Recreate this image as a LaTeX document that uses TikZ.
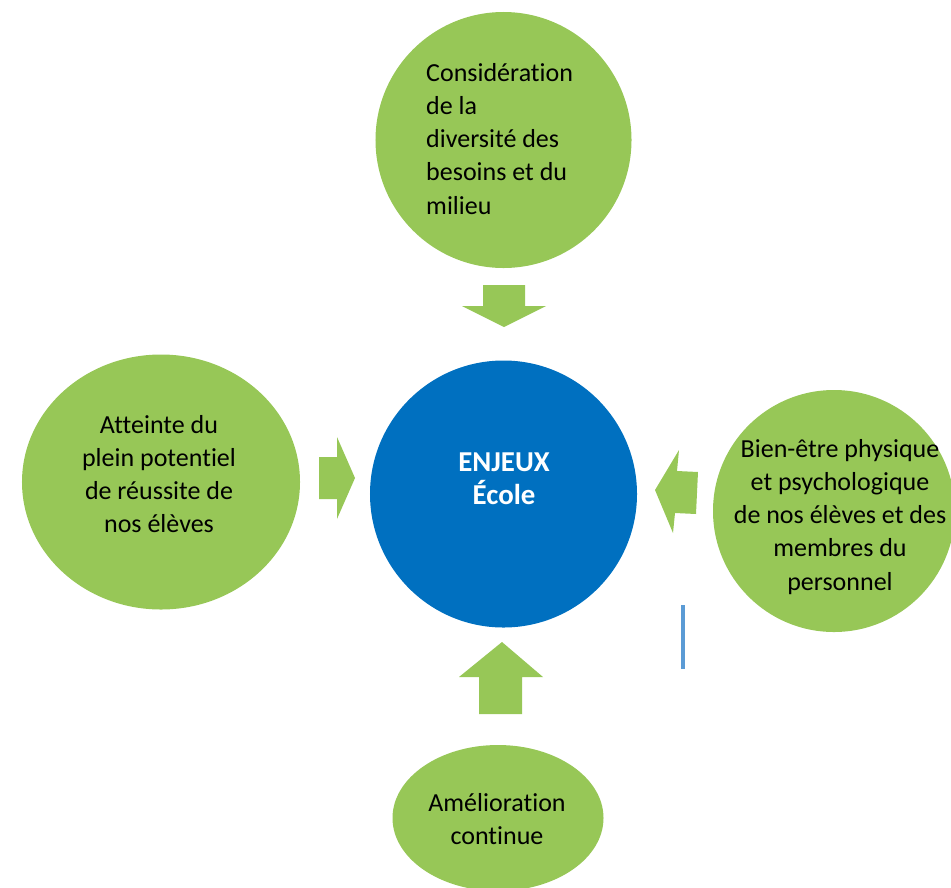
\documentclass[tikz,border=0pt]{standalone}
\usepackage{fontspec}
\setmainfont{Carlito}[Ligatures=NoCommon]
\usetikzlibrary{shapes.geometric}
\definecolor{leafgreen}{HTML}{97C757}
\definecolor{coreblue}{HTML}{0070C0}
\definecolor{markblue}{HTML}{5B9BD5}

\begin{document}
\begin{tikzpicture}[x=0.03cm,y=-0.03cm,
	bubble/.style={fill=leafgreen,inner sep=0pt,outer sep=0pt},
	txt/.style={font=\fontsize{22.2}{28.2}\selectfont,inner sep=0pt},
	blockarrow/.style={fill=leafgreen}]
	
	\useasboundingbox (0,0) rectangle (951,887);
	\clip (0,0) rectangle (951,887);
	\node [bubble,circle,minimum size=7.68cm] at (503.5,140) (topC) {};
	\node [bubble,ellipse,minimum width=8.34cm,minimum height=7.65cm] at (161,482) (leftE) {};
	\node [fill=coreblue,circle,minimum size=8.01cm,inner sep=0pt] at (503.5,494) (core) {};
	\node [bubble,circle,minimum size=7.26cm] at (834,511) (rightC) {};
	\node [bubble,ellipse,minimum width=6.33cm,minimum height=4.38cm] at (498,818) (botE) {};
	\node [txt,anchor=west,align=left] at (426,139) (topT) {Considération\\de la\\diversité des\\besoins et du\\milieu};
	\node [txt,align=center] at (159,474) (leftT) {Atteinte du\\plein potentiel\\de réussite de\\nos élèves};
	\node [txt,align=center,text=white,font=\fontsize{24.6}{28.2}\selectfont\bfseries] at (504,479) (coreT) {ENJEUX\\École};
	\node [txt,align=center] at (840,517) (rightT) {Bien-être physique\\et psychologique\\de nos élèves et des\\membres du\\personnel};
	\node [txt,align=center] at (497,819) (botT) {Amélioration\\continue};
	\fill [blockarrow] (483,285) -- (525,285) -- (525,306) -- (546,306) -- (504,327) -- (462,306) -- (483,306) -- cycle;
	\fill [blockarrow] (319,457) -- (337,457) -- (337,437) -- (355,478) -- (337,519) -- (337,499) -- (319,499) -- cycle;
	\fill [blockarrow] (655,490) -- (679,450) -- (677,471) -- (698,472) -- (696,514) -- (675,513) -- (673,533) -- cycle;
	\fill [blockarrow] (502,642) -- (543,677) -- (522,677) -- (522,714) -- (479,714) -- (479,677) -- (459,677) -- cycle;
	\draw [markblue,line width=0.12cm] (683,605) -- (683,669);
\end{tikzpicture}
\end{document}
